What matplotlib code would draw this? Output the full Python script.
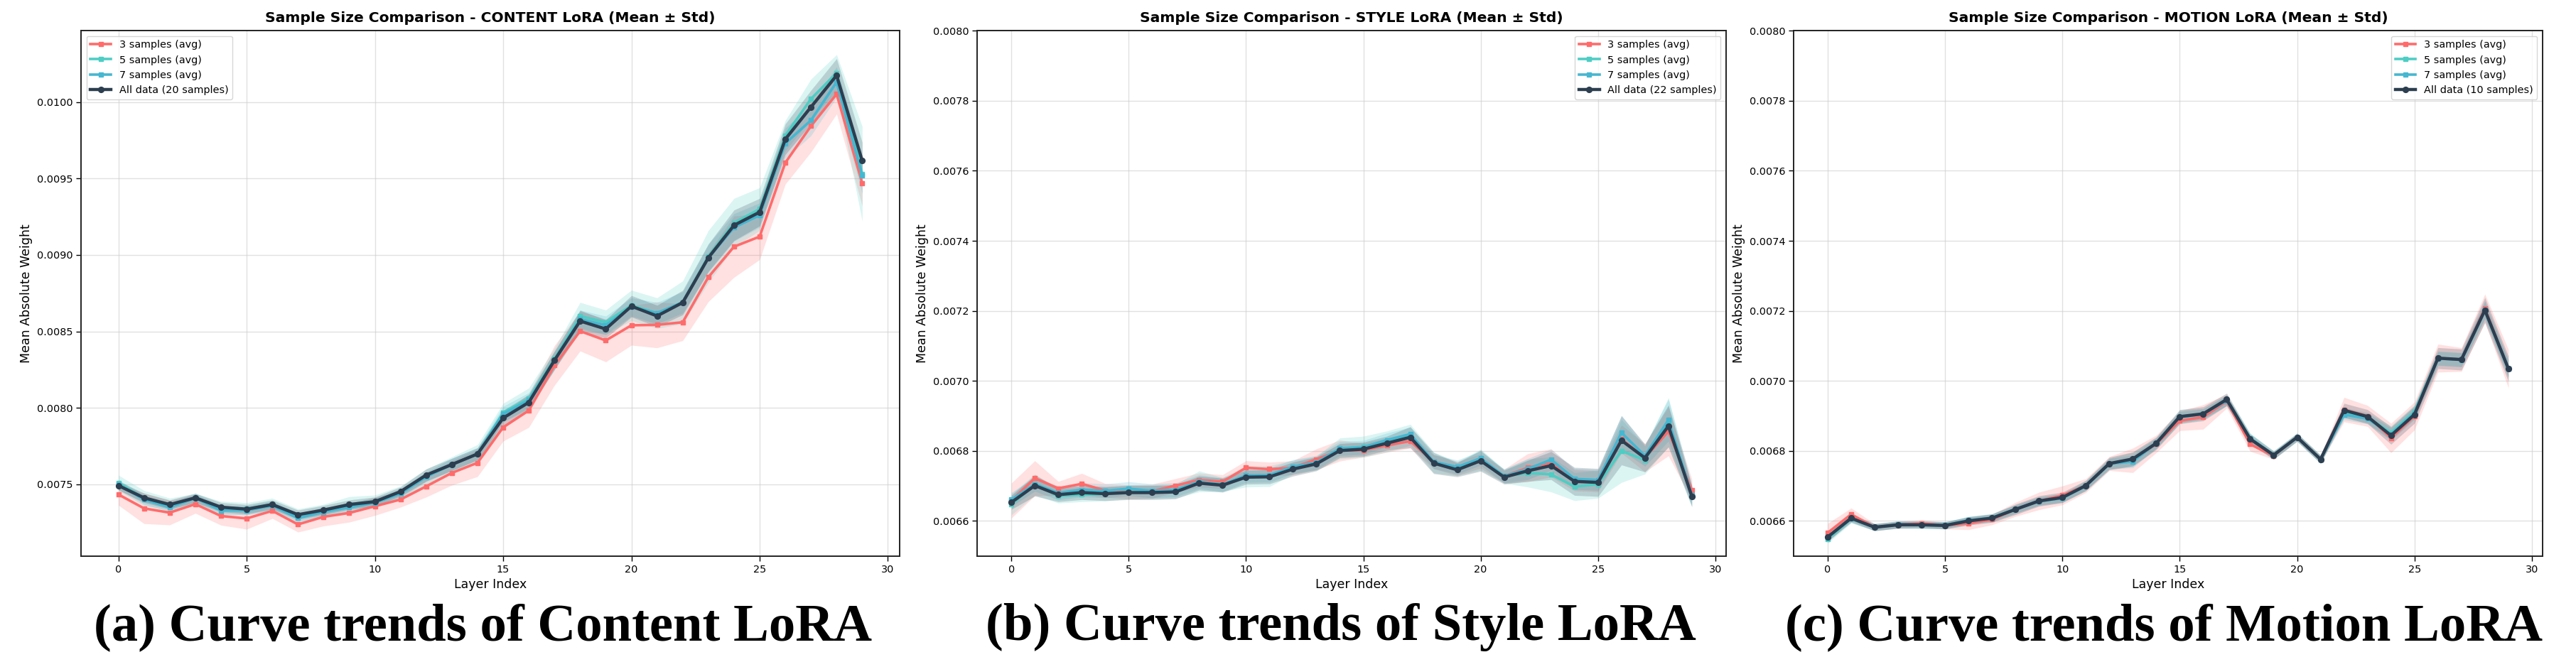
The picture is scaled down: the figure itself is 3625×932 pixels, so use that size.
import numpy as np
import matplotlib
matplotlib.use("Agg")
import matplotlib.pyplot as plt

# ---------------- data ----------------
layers = np.arange(30)

series_labels_content = ["3 samples (avg)", "5 samples (avg)", "7 samples (avg)", "All data (20 samples)"]
series_labels_style = ["3 samples (avg)", "5 samples (avg)", "7 samples (avg)", "All data (22 samples)"]
series_labels_motion = ["3 samples (avg)", "5 samples (avg)", "7 samples (avg)", "All data (10 samples)"]

# CONTENT LoRA
content_3_mean = [0.007434, 0.007343, 0.007315, 0.007371, 0.007293, 0.007277, 0.007327, 0.007238, 0.007288, 0.007313,
                  0.007357, 0.007401, 0.007487, 0.007575, 0.007641, 0.007873, 0.007983, 0.008278, 0.008502, 0.008441,
                  0.008540, 0.008543, 0.008560, 0.008855, 0.009054, 0.009120, 0.009603, 0.009843, 0.010052, 0.009470]
content_3_std = [0.00007, 0.00010, 0.00008, 0.00006, 0.00006, 0.00007, 0.00005, 0.00005, 0.00006, 0.00006,
                 0.00006, 0.00005, 0.00007, 0.00008, 0.00009, 0.00009, 0.00011, 0.00013, 0.00013, 0.00014,
                 0.00013, 0.00015, 0.00012, 0.00016, 0.00020, 0.00015, 0.00014, 0.00017, 0.00013, 0.00015]
content_5_mean = [0.007510, 0.007410, 0.007370, 0.007410, 0.007350, 0.007340, 0.007370, 0.007300, 0.007330, 0.007370,
                  0.007390, 0.007450, 0.007550, 0.007630, 0.007700, 0.007970, 0.008060, 0.008320, 0.008600, 0.008560,
                  0.008670, 0.008620, 0.008690, 0.008990, 0.009210, 0.009300, 0.009780, 0.010020, 0.010190, 0.009530]
content_5_std = [0.00005, 0.00005, 0.00004, 0.00003, 0.00004, 0.00004, 0.00004, 0.00004, 0.00004, 0.00005,
                 0.00004, 0.00004, 0.00005, 0.00005, 0.00006, 0.00006, 0.00007, 0.00007, 0.00009, 0.00008,
                 0.00010, 0.00010, 0.00014, 0.00017, 0.00016, 0.00014, 0.00010, 0.00013, 0.00012, 0.00031]
content_7_mean = [0.007500, 0.007400, 0.007350, 0.007410, 0.007330, 0.007330, 0.007360, 0.007280, 0.007320, 0.007350,
                  0.007380, 0.007440, 0.007550, 0.007630, 0.007700, 0.007960, 0.008050, 0.008310, 0.008580, 0.008540,
                  0.008660, 0.008620, 0.008690, 0.008980, 0.009180, 0.009260, 0.009730, 0.009880, 0.010130, 0.009520]
content_7_std = [0.00003, 0.00003, 0.00003, 0.00003, 0.00003, 0.00003, 0.00003, 0.00003, 0.00003, 0.00003,
                 0.00003, 0.00003, 0.00003, 0.00004, 0.00004, 0.00005, 0.00005, 0.00006, 0.00006, 0.00006,
                 0.00006, 0.00007, 0.00007, 0.00009, 0.00009, 0.00008, 0.00010, 0.00010, 0.00010, 0.00012]
content_all_mean = [0.007492, 0.007412, 0.007368, 0.007412, 0.007351, 0.007338, 0.007368, 0.007302, 0.007332, 0.007368,
                    0.007387, 0.007453, 0.007561, 0.007630, 0.007699, 0.007934, 0.008036, 0.008311, 0.008568, 0.008516,
                    0.008665, 0.008601, 0.008689, 0.008982, 0.009194, 0.009280, 0.009757, 0.009967, 0.010174, 0.009616]
content_all_std = [0.00003, 0.00003, 0.00003, 0.00003, 0.00003, 0.00003, 0.00003, 0.00003, 0.00003, 0.00003,
                   0.00003, 0.00003, 0.00004, 0.00004, 0.00004, 0.00005, 0.00005, 0.00006, 0.00007, 0.00006,
                   0.00007, 0.00007, 0.00008, 0.00009, 0.00010, 0.00009, 0.00010, 0.00011, 0.00011, 0.00012]

# STYLE LoRA
style_3_mean = [0.006658, 0.006722, 0.006693, 0.006706, 0.006687, 0.006683, 0.006685, 0.006701, 0.006717, 0.006712,
                0.006752, 0.006748, 0.006752, 0.006776, 0.006801, 0.006802, 0.006816, 0.006828, 0.006769, 0.006750,
                0.006771, 0.006728, 0.006752, 0.006766, 0.006716, 0.006713, 0.006834, 0.006780, 0.006856, 0.006689]
style_3_std = [0.00005, 0.00005, 0.00002, 0.00003, 0.00002, 0.00002, 0.00002, 0.00002, 0.00002, 0.00002,
               0.00002, 0.00002, 0.00002, 0.00003, 0.00003, 0.00002, 0.00002, 0.00002, 0.00002, 0.00002,
               0.00002, 0.00002, 0.00004, 0.00004, 0.00003, 0.00003, 0.00004, 0.00004, 0.00007, 0.00003]
style_5_mean = [0.006647, 0.006704, 0.006671, 0.006675, 0.006677, 0.006683, 0.006683, 0.006685, 0.006713, 0.006704,
                0.006727, 0.006728, 0.006753, 0.006765, 0.006807, 0.006812, 0.006827, 0.006846, 0.006767, 0.006749,
                0.006775, 0.006728, 0.006737, 0.006733, 0.006698, 0.006705, 0.006800, 0.006774, 0.006882, 0.006671]
style_5_std = [0.00003, 0.00003, 0.00002, 0.00002, 0.00002, 0.00002, 0.00002, 0.00002, 0.00003, 0.00002,
               0.00003, 0.00003, 0.00002, 0.00002, 0.00003, 0.00003, 0.00003, 0.00003, 0.00003, 0.00002,
               0.00003, 0.00002, 0.00004, 0.00005, 0.00004, 0.00004, 0.00009, 0.00004, 0.00007, 0.00003]
style_7_mean = [0.006661, 0.006705, 0.006680, 0.006689, 0.006686, 0.006692, 0.006686, 0.006689, 0.006712, 0.006704,
                0.006730, 0.006731, 0.006755, 0.006767, 0.006807, 0.006810, 0.006831, 0.006848, 0.006769, 0.006754,
                0.006779, 0.006728, 0.006748, 0.006775, 0.006720, 0.006717, 0.006852, 0.006786, 0.006888, 0.006674]
style_7_std = [0.00002, 0.00002, 0.00002, 0.00002, 0.00002, 0.00002, 0.00002, 0.00002, 0.00002, 0.00002,
               0.00002, 0.00002, 0.00002, 0.00002, 0.00002, 0.00002, 0.00002, 0.00002, 0.00002, 0.00002,
               0.00002, 0.00002, 0.00003, 0.00003, 0.00003, 0.00003, 0.00005, 0.00003, 0.00006, 0.00003]
style_all_mean = [0.006653, 0.006701, 0.006675, 0.006681, 0.006678, 0.006681, 0.006681, 0.006683, 0.006708, 0.006702,
                  0.006725, 0.006726, 0.006748, 0.006763, 0.006801, 0.006805, 0.006822, 0.006839, 0.006765, 0.006746,
                  0.006772, 0.006725, 0.006743, 0.006758, 0.006713, 0.006710, 0.006830, 0.006780, 0.006871, 0.006670]
style_all_std = [0.00002, 0.00003, 0.00002, 0.00002, 0.00002, 0.00002, 0.00002, 0.00002, 0.00002, 0.00002,
                 0.00002, 0.00002, 0.00002, 0.00002, 0.00002, 0.00002, 0.00002, 0.00003, 0.00003, 0.00002,
                 0.00003, 0.00002, 0.00003, 0.00004, 0.00004, 0.00004, 0.00007, 0.00004, 0.00006, 0.00003]

# MOTION LoRA
motion_3_mean = [0.006566, 0.006619, 0.006582, 0.006589, 0.006593, 0.006587, 0.006593, 0.006604, 0.006633, 0.006657,
                 0.006673, 0.006701, 0.006764, 0.006773, 0.006820, 0.006886, 0.006897, 0.006942, 0.006819, 0.006786,
                 0.006839, 0.006776, 0.006918, 0.006900, 0.006837, 0.006900, 0.007065, 0.007061, 0.007208, 0.007035]
motion_3_std = [0.000027, 0.000018, 0.000010, 0.000010, 0.000010, 0.000010, 0.000018, 0.000015, 0.000020, 0.000025,
                0.000027, 0.000020, 0.000020, 0.000035, 0.000025, 0.000028, 0.000035, 0.000020, 0.000020, 0.000010,
                0.000010, 0.000010, 0.000035, 0.000030, 0.000042, 0.000040, 0.000040, 0.000034, 0.000040, 0.000055]
motion_5_mean = [0.006548, 0.006606, 0.006582, 0.006589, 0.006589, 0.006587, 0.006601, 0.006609, 0.006633, 0.006657,
                 0.006666, 0.006701, 0.006764, 0.006776, 0.006822, 0.006897, 0.006906, 0.006945, 0.006836, 0.006788,
                 0.006839, 0.006776, 0.006909, 0.006895, 0.006852, 0.006912, 0.007065, 0.007061, 0.007202, 0.007035]
motion_5_std = [0.000012, 0.000012, 0.000010, 0.000010, 0.000010, 0.000010, 0.000012, 0.000012, 0.000012, 0.000012,
                0.000012, 0.000015, 0.000015, 0.000020, 0.000015, 0.000020, 0.000015, 0.000015, 0.000015, 0.000012,
                0.000012, 0.000012, 0.000015, 0.000015, 0.000020, 0.000020, 0.000020, 0.000020, 0.000025, 0.000025]
motion_7_mean = [0.006552, 0.006607, 0.006582, 0.006590, 0.006589, 0.006588, 0.006602, 0.006609, 0.006634, 0.006656,
                 0.006665, 0.006700, 0.006763, 0.006770, 0.006822, 0.006897, 0.006905, 0.006944, 0.006836, 0.006788,
                 0.006839, 0.006776, 0.006904, 0.006892, 0.006848, 0.006908, 0.007064, 0.007060, 0.007203, 0.007035]
motion_7_std = [0.000010, 0.000010, 0.000010, 0.000010, 0.000010, 0.000010, 0.000010, 0.000010, 0.000012, 0.000012,
                0.000012, 0.000012, 0.000015, 0.000018, 0.000015, 0.000015, 0.000015, 0.000015, 0.000012, 0.000010,
                0.000010, 0.000010, 0.000015, 0.000015, 0.000018, 0.000018, 0.000020, 0.000020, 0.000025, 0.000025]
motion_all_mean = [0.006554, 0.006608, 0.006582, 0.006589, 0.006589, 0.006587, 0.006600, 0.006608, 0.006633, 0.006657,
                   0.006667, 0.006701, 0.006764, 0.006777, 0.006822, 0.006898, 0.006906, 0.006947, 0.006834, 0.006788,
                   0.006839, 0.006776, 0.006916, 0.006898, 0.006844, 0.006904, 0.007065, 0.007061, 0.007202, 0.007035]
motion_all_std = [0.000012, 0.000012, 0.000010, 0.000010, 0.000010, 0.000010, 0.000012, 0.000012, 0.000015, 0.000015,
                  0.000015, 0.000015, 0.000018, 0.000020, 0.000018, 0.000020, 0.000020, 0.000018, 0.000015, 0.000012,
                  0.000012, 0.000012, 0.000020, 0.000020, 0.000025, 0.000025, 0.000030, 0.000030, 0.000036, 0.000036]

panel_titles = ["Sample Size Comparison - CONTENT LoRA (Mean ± Std)",
                "Sample Size Comparison - STYLE LoRA (Mean ± Std)",
                "Sample Size Comparison - MOTION LoRA (Mean ± Std)"]
captions = ["(a) Curve trends of Content LoRA",
            "(b) Curve trends of Style LoRA",
            "(c) Curve trends of Motion LoRA"]

# ---------------- style ----------------
colors = ["#FF6B6B", "#4ECDC4", "#45B7D1", "#2C3E50"]
markers = ["s", "s", "s", "o"]
lws = [2.6, 2.6, 2.6, 3.2]
mss = [4.2, 4.2, 4.2, 5.6]

W, H = 3625, 932
DPI = 100
fig = plt.figure(figsize=(W / DPI, H / DPI), dpi=DPI)
plt.rcParams['font.family'] = ['DejaVu Sans']

def px_axes(l, t, r, b):
    return fig.add_axes([l / W, (H - b) / H, (r - l) / W, (b - t) / H])

axes_px = [(114.3, 43.3, 1265.7, 782.7),
           (1375.3, 43.3, 2428.7, 782.7),
           (2524.0, 43.3, 3577.7, 782.7)]

panels = [
    ([content_3_mean, content_5_mean, content_7_mean, content_all_mean],
     [content_3_std, content_5_std, content_7_std, content_all_std], series_labels_content, "upper left", None),
    ([style_3_mean, style_5_mean, style_7_mean, style_all_mean],
     [style_3_std, style_5_std, style_7_std, style_all_std], series_labels_style, "upper right", (0.0065, 0.0080)),
    ([motion_3_mean, motion_5_mean, motion_7_mean, motion_all_mean],
     [motion_3_std, motion_5_std, motion_7_std, motion_all_std], series_labels_motion, "upper right", (0.0065, 0.0080)),
]

for k, (means, stds, labels, loc, ylim) in enumerate(panels):
    ax = px_axes(*axes_px[k])
    for i in range(4):
        m = np.asarray(means[i])
        s = np.asarray(stds[i])
        ax.fill_between(layers, m - s, m + s, color=colors[i], alpha=0.2, linewidth=0)
    for i in range(4):
        m = np.asarray(means[i])
        ax.plot(layers, m, marker=markers[i], color=colors[i], lw=lws[i], ms=mss[i],
                label=labels[i], zorder=3 + i)
    if ylim is not None:
        ax.set_ylim(*ylim)
        ax.set_yticks(np.arange(0.0066, 0.00801, 0.0002))
    ax.set_xticks([0, 5, 10, 15, 20, 25, 30])
    ax.yaxis.set_major_formatter(matplotlib.ticker.FormatStrFormatter('%.4f'))
    ax.grid(True, color="#cccccc", alpha=0.6, linewidth=1.0)
    ax.set_axisbelow(True)
    ax.tick_params(labelsize=10.4, length=5, width=1.0)
    for sp in ax.spines.values():
        sp.set_color("#222222")
        sp.set_linewidth(1.4)
    ax.set_xlabel("Layer Index", fontsize=12.5)
    ax.set_ylabel("Mean Absolute Weight", fontsize=12.5)
    ax.set_title(panel_titles[k], fontsize=14.6, fontweight="bold", pad=8.5)
    ax.legend(loc=loc, fontsize=10.4, framealpha=0.8)

cap_x = [679, 1886.5, 3045]
for k in range(3):
    fig.text(cap_x[k] / W, (H - 901) / H, captions[k], ha="center", va="baseline",
             family=["Liberation Serif", "DejaVu Serif"], fontweight="bold", fontsize=53.7)

fig.savefig("out.png", dpi=DPI)
